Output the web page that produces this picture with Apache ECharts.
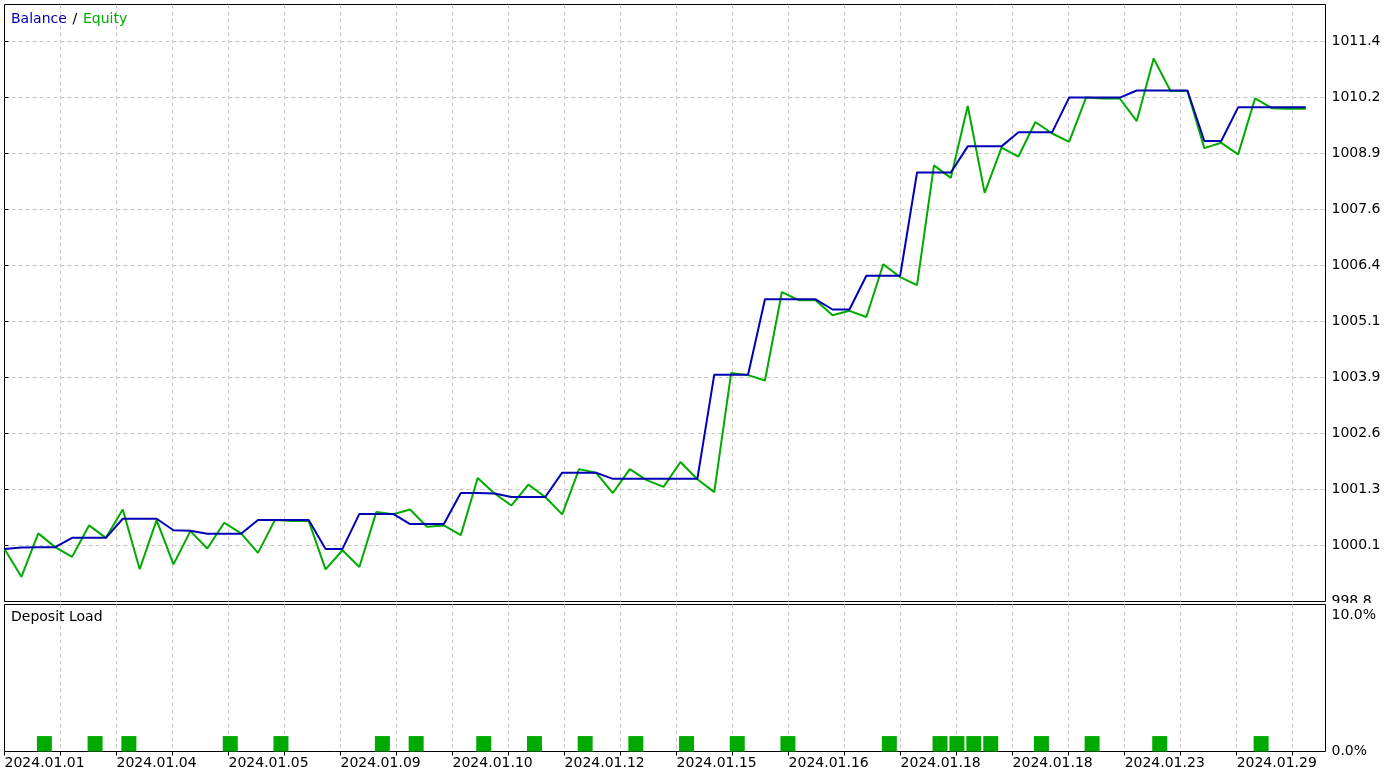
<!DOCTYPE html>
<html><head><meta charset="utf-8">
<script src="https://cdn.jsdelivr.net/npm/echarts@6/dist/echarts.min.js"></script>
<style>html,body{margin:0;padding:0;background:#fff}#c{width:1399px;height:777px}</style>
</head><body><div id="c"></div>
<script>
// ---- data ----
const BALANCE = [
  999.99, 1000.02, 1000.03, 1000.03, 1000.24, 1000.24, 1000.24, 1000.67, 1000.67, 1000.67,
  1000.41, 1000.40, 1000.33, 1000.33, 1000.33, 1000.64, 1000.64, 1000.64, 1000.64, 999.99,
  999.99, 1000.78, 1000.78, 1000.78, 1000.55, 1000.55, 1000.55, 1001.25, 1001.25, 1001.24,
  1001.16, 1001.16, 1001.16, 1001.71, 1001.71, 1001.71, 1001.57, 1001.57, 1001.57, 1001.57,
  1001.57, 1001.57, 1003.92, 1003.92, 1003.92, 1005.62, 1005.62, 1005.62, 1005.62, 1005.39,
  1005.39, 1006.15, 1006.15, 1006.15, 1008.48, 1008.48, 1008.48, 1009.07, 1009.07, 1009.07,
  1009.39, 1009.39, 1009.39, 1010.17, 1010.17, 1010.17, 1010.17, 1010.33, 1010.33, 1010.33,
  1010.33, 1009.19, 1009.19, 1009.95, 1009.95, 1009.95, 1009.95, 1009.95
];
const EQUITY = [
  999.99, 999.36, 1000.34, 1000.03, 999.81, 1000.52, 1000.24, 1000.88, 999.53, 1000.64,
  999.64, 1000.39, 1000.00, 1000.58, 1000.34, 999.90, 1000.64, 1000.62, 1000.62, 999.53,
  999.96, 999.58, 1000.82, 1000.77, 1000.88, 1000.49, 1000.52, 1000.30, 1001.59, 1001.24,
  1000.97, 1001.44, 1001.16, 1000.77, 1001.79, 1001.71, 1001.25, 1001.79, 1001.54, 1001.39,
  1001.95, 1001.56, 1001.27, 1003.96, 1003.91, 1003.79, 1005.78, 1005.60, 1005.60, 1005.26,
  1005.36, 1005.22, 1006.41, 1006.12, 1005.94, 1008.64, 1008.36, 1009.98, 1008.02, 1009.04,
  1008.84, 1009.62, 1009.36, 1009.17, 1010.17, 1010.15, 1010.15, 1009.64, 1011.05, 1010.32,
  1010.32, 1009.03, 1009.15, 1008.89, 1010.15, 1009.93, 1009.92, 1009.92
];
const DEAL_INDEX = [2, 5, 7, 13, 16, 22, 24, 28, 31, 34, 37, 40, 43, 46, 52, 55, 56, 57, 58, 61, 64, 68, 74];
const DEPOSIT_LOAD = [1.05, 1.05, 1.05, 1.05, 1.05, 1.05, 1.05, 1.05, 1.05, 1.05, 1.05, 1.05,
                      1.05, 1.05, 1.05, 1.05, 1.05, 1.05, 1.05, 1.05, 1.05, 1.05, 1.05];
const DATE_LABELS = ['2024.01.01', '2024.01.04', '2024.01.05', '2024.01.09', '2024.01.10', '2024.01.12',
                     '2024.01.15', '2024.01.16', '2024.01.18', '2024.01.18', '2024.01.23', '2024.01.29'];
const Y_INTERVAL = 1.26271;
const Y_MIN = 998.80361;   // 791 * Y_INTERVAL
const Y_MAX = 1012.27;
const X_MAX = 78.17;
const X_GRID_STEP = 3.3142;
const LOAD_MAX = 10;
const LOAD_SHIFT = 0.36;

// ---- chart ----
const FONT = 'DejaVu Sans';
const BLUE = '#0000b4', GREEN = '#00aa00';
const gridLine = { show: true, showMinLine: false, showMaxLine: false,
                   lineStyle: { color: '#c8c8c8', type: [4, 3], width: 1 } };
const chart = echarts.init(document.getElementById('c'), null, { renderer: 'canvas' });

function dateLabel(v) {
  const k = Math.round(v / X_GRID_STEP);
  if (Math.abs(v - k * X_GRID_STEP) > 1e-6) return '';
  if (k % 2 !== 0) return '';
  const j = k / 2;
  return j < DATE_LABELS.length ? DATE_LABELS[j] : '';
}

chart.setOption({
  animation: false,
  backgroundColor: '#fff',
  textStyle: { fontFamily: FONT },
  title: [
    { left: 11, top: 10, padding: 0,
      text: '{b|Balance} {s|/} {e|Equity}',
      textStyle: { fontWeight: 'normal', rich: {
        b: { color: BLUE, fontSize: 14, fontFamily: FONT, fontWeight: 'normal' },
        s: { color: '#000', fontSize: 14, fontFamily: FONT, fontWeight: 'normal' },
        e: { color: GREEN, fontSize: 14, fontFamily: FONT, fontWeight: 'normal' } } } },
    { left: 11, top: 610, padding: 0, text: 'Deposit Load',
      textStyle: { color: '#000', fontSize: 14, fontWeight: 'normal', fontFamily: FONT } }
  ],
  grid: [
    { left: 4.5, top: 4.5, right: 73.5, bottom: 175.5, show: true, borderColor: '#000', borderWidth: 1, backgroundColor: 'transparent' },
    { left: 4.5, top: 604.5, right: 73.5, bottom: 25.5, show: true, borderColor: '#000', borderWidth: 1, backgroundColor: 'transparent' }
  ],
  xAxis: [
    { type: 'value', gridIndex: 0, min: 0, max: X_MAX, interval: X_GRID_STEP,
      axisLine: { show: false }, axisTick: { show: false }, axisLabel: { show: false }, splitLine: gridLine },
    { type: 'value', gridIndex: 1, min: 0, max: X_MAX, interval: X_GRID_STEP,
      axisLine: { show: false },
      axisTick: { show: true, length: 4, lineStyle: { color: '#000' } },
      axisLabel: { show: true, align: 'left', margin: 5, color: '#000', fontSize: 14, fontFamily: FONT,
                   formatter: dateLabel, showMaxLabel: false, hideOverlap: false },
      splitLine: gridLine },
    { type: 'value', gridIndex: 1, min: -LOAD_SHIFT, max: X_MAX - LOAD_SHIFT, show: false,
      axisLine: { show: false }, axisTick: { show: false }, axisLabel: { show: false }, splitLine: { show: false } }
  ],
  yAxis: [
    { type: 'value', gridIndex: 0, position: 'right', min: Y_MIN, max: Y_MAX, interval: Y_INTERVAL,
      axisLine: { show: false },
      axisTick: { show: true, length: 4, lineStyle: { color: '#000' } },
      axisLabel: { show: true, margin: 6, color: '#000', fontSize: 14, fontFamily: FONT,
                   showMaxLabel: false, formatter: v => v.toFixed(1) },
      splitLine: gridLine },
    { type: 'value', gridIndex: 1, position: 'right', min: 0, max: LOAD_MAX, interval: LOAD_MAX,
      axisLine: { show: false }, axisTick: { show: false }, splitLine: { show: false },
      axisLabel: { show: true, margin: 6, color: '#000', fontSize: 14, fontFamily: FONT,
        formatter: v => v === LOAD_MAX ? '{t|' + v.toFixed(1) + '%}' : v.toFixed(1) + '%',
        rich: { t: { padding: [22, 0, 0, 0], fontSize: 14, fontFamily: FONT, color: '#000' } } } }
  ],
  graphic: [
    { type: 'rect', z: 100, shape: { x: 1327, y: 603, width: 72, height: 5 }, style: { fill: '#fff' } }
  ],
  series: [
    { name: 'Equity', type: 'line', xAxisIndex: 0, yAxisIndex: 0, symbol: 'none',
      data: EQUITY.map((v, i) => [i, v]), lineStyle: { color: GREEN, width: 2 }, z: 2 },
    { name: 'Balance', type: 'line', xAxisIndex: 0, yAxisIndex: 0, symbol: 'none',
      data: BALANCE.map((v, i) => [i, v]), lineStyle: { color: BLUE, width: 2 }, z: 3 },
    { name: 'Deposit Load', type: 'bar', xAxisIndex: 2, yAxisIndex: 1, barWidth: 15,
      data: DEAL_INDEX.map((d, i) => [d, DEPOSIT_LOAD[i]]), itemStyle: { color: GREEN } }
  ]
});
</script></body></html>
